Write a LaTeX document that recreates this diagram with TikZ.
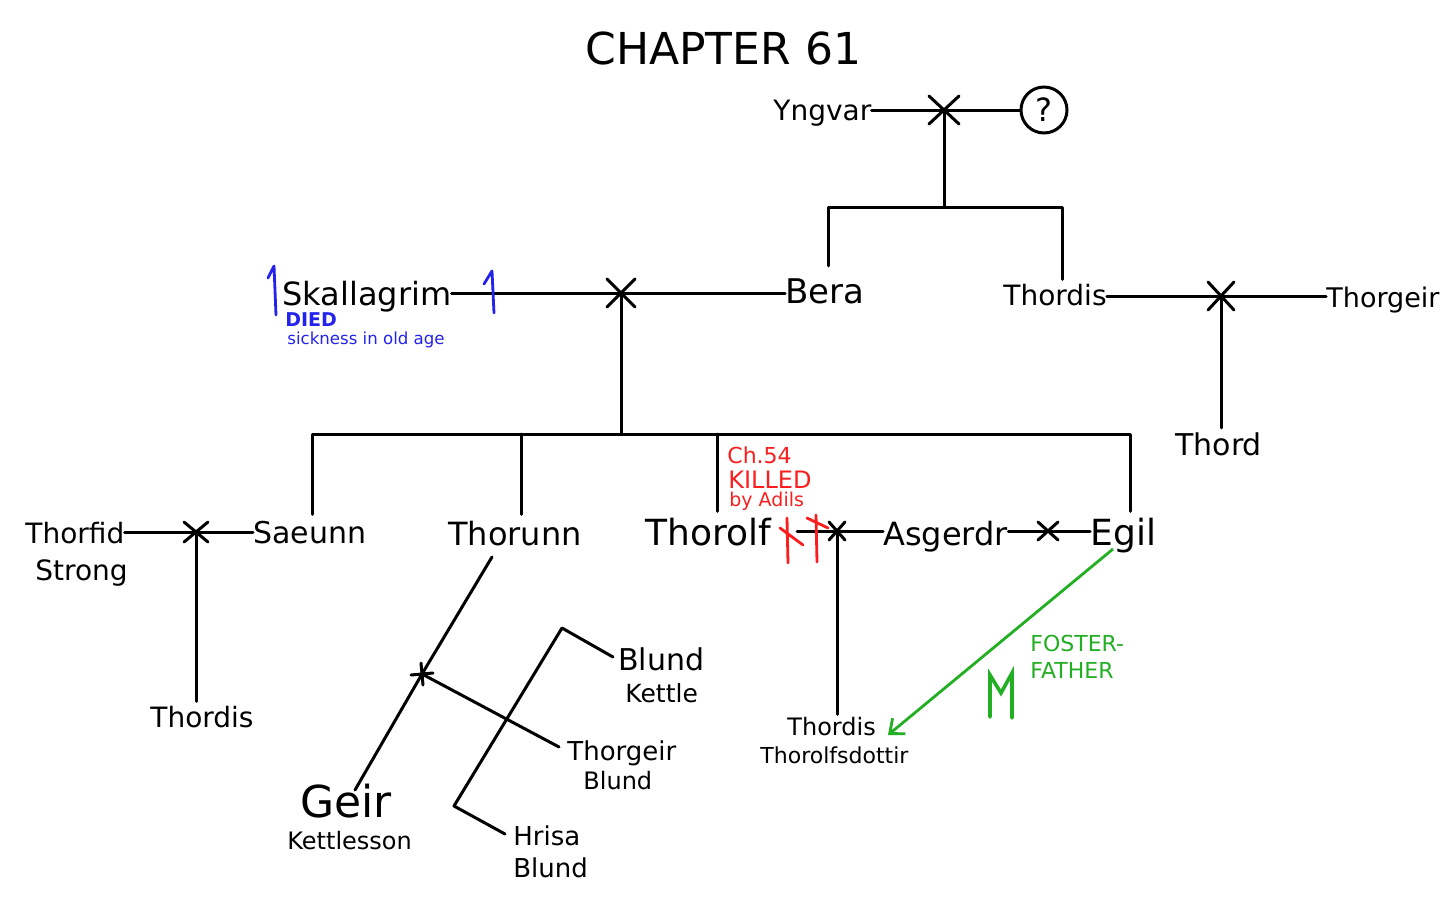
\documentclass[tikz,border=0pt]{standalone}
\usepackage{fontspec}
\setmainfont{DejaVu Sans}
\usetikzlibrary{arrows.meta}
\newcommand\fsz[1]{\fontsize{#1}{#1}\selectfont}
\definecolor{dblue}{RGB}{35,35,235}
\definecolor{kred}{RGB}{250,30,30}
\definecolor{fgreen}{RGB}{35,175,35}
\newcommand\wedx[3]{\draw[conn] (#1) ++(-#2,-#3) -- ++(2*#2,2*#3) (#1) ++(-#2,#3) -- ++(2*#2,-2*#3);}
\begin{document}
\begin{tikzpicture}[x=0.5pt,y=-0.5pt,
  lbl/.style={inner sep=0pt,anchor=base west},
  conn/.style={line width=1.5pt,line cap=round,line join=round},
  garrow/.style={fgreen,line width=1.4pt,-{Straight Barb[length=6pt,width=10pt,line width=1.4pt]}},
  redmark/.style={kred,line width=1.4pt,line cap=round},
  bluemark/.style={dblue,line width=1.4pt,line cap=round,line join=round}]
\fill[white] (0,0) rectangle (1451,900);
\useasboundingbox (0,0) rectangle (1451,900);

% title
\node[lbl,font=\fsz{22}] (title) at (585,64) {CHAPTER 61};

% Yngvar
\node[lbl,font=\fsz{14}] (yngvar) at (773,120) {Yngvar};
\node[draw,circle,line width=1.5pt,minimum size=23pt,inner sep=0pt,font=\fsz{16}] (q) at (1044,110) {?};
\coordinate (m1) at (944,110);
\coordinate (j1) at (944,207);
\draw[conn] (yngvar.east |- m1) -- (m1) -- (q.west);
\wedx{m1}{15}{14}
\draw[conn] (m1) -- (j1);

% Skallagrim & Bera
\node[lbl,font=\fsz{16}] (skal) at (282,305) {Skallagrim};
\node[lbl,font=\fsz{17}] (bera) at (785,303) {Bera};
\node[lbl,font=\fsz{14}] (thordis1) at (1003,305) {Thordis};
\node[lbl,font=\fsz{13.5}] (thorgeir1) at (1326,307) {Thorgeir};
\coordinate (b1) at (828,207);
\coordinate (d1) at (1062,207);
\draw[conn] ([yshift=6pt]b1 |- bera.north) -- (b1) -- (d1) -- ([yshift=2pt]d1 |- thordis1.north);

\coordinate (m2) at (621,293);
\draw[conn] (skal.east |- m2) -- (bera.west |- m2);
\wedx{m2}{14}{14}
\coordinate (j2) at (621,434);
\draw[conn] (m2) -- (j2);

% blue marks
\draw[bluemark] (268,278) -- (274,266) -- (276,315);
\draw[bluemark] (484,284) -- (492,271) -- (494,313);
\node[lbl,font=\bfseries\fsz{9.5},text=dblue] (died) at (285,326) {DIED};
\node[lbl,font=\fsz{8.3},text=dblue] (sick) at (287,344) {sickness in old age};

% Thordis & Thorgeir
\coordinate (m3) at (1221,296);
\draw[conn] (thordis1.east |- m3) -- (thorgeir1.west |- m3);
\wedx{m3}{13}{14}
\node[lbl,font=\fsz{15}] (thord) at (1175,455) {Thord};
\draw[conn] (m3) -- ([yshift=2pt]m3 |- thord.north);

% children row
\node[lbl,font=\fsz{14}] (thorfid) at (25,543) {Thorfid};
\node[lbl,font=\fsz{14}] (strong) at (35,580) {Strong};
\node[lbl,font=\fsz{15}] (saeunn) at (253,543) {Saeunn};
\node[lbl,font=\fsz{16}] (thorunn) at (448,545) {Thorunn};
\node[lbl,font=\fsz{18}] (thorolf) at (645,545) {Thorolf};
\node[lbl,font=\fsz{16}] (asgerdr) at (883,545) {Asgerdr};
\node[lbl,font=\fsz{18}] (egil) at (1090,545) {Egil};

\coordinate (s3) at (312,434);
\coordinate (u3) at (521,434);
\coordinate (t3) at (717,434);
\coordinate (e3) at (1130,434);
\draw[conn] ([yshift=3pt]s3 |- saeunn.north) -- (s3) -- (e3) -- ([yshift=3pt]e3 |- egil.north);
\draw[conn] (u3) -- ([yshift=3pt]u3 |- thorunn.north);
\draw[conn] (t3) -- ([yshift=3pt]t3 |- thorolf.north);

% red
\node[lbl,font=\fsz{11},text=kred] (ch) at (727,463) {Ch.54};
\node[lbl,font=\fsz{12},text=kred] (killed) at (728,488) {KILLED};
\node[lbl,font=\fsz{9.5},text=kred] (adils) at (729,506) {by Adils};

% Thorfid & Saeunn
\coordinate (m4) at (196,532);
\draw[conn] (thorfid.east |- m4) -- (saeunn.west |- m4);
\wedx{m4}{12}{10}
\node[lbl,font=\fsz{14}] (thordis2) at (150,727) {Thordis};
\draw[conn] (m4) -- ([yshift=2pt]m4 |- thordis2.north);

% Thorolf & Asgerdr & Egil
\coordinate (ts) at (797,531);
\coordinate (m5) at (837,531);
\draw[conn] (ts) -- (asgerdr.west |- m5);
\wedx{m5}{8}{9}
\coordinate (m6) at (1048,531);
\draw[conn] (asgerdr.east |- m6) -- (egil.west |- m6);
\wedx{m6}{10}{9}
\draw[redmark] (787,518) -- (788,563);
\draw[redmark] (780,528) -- (803,545);
\draw[redmark] (816,515) -- (817,562);
\draw[redmark] (807,518) -- (828,528);

\node[lbl,font=\fsz{12}] (thordis3) at (787,735) {Thordis};
\node[lbl,font=\fsz{11}] (tdottir) at (760,763) {Thorolfsdottir};
\draw[conn] (m5) -- ([yshift=1pt]m5 |- thordis3.north);

% foster
\coordinate (ga) at (1113,549);
\coordinate (gb) at (888,735);
\draw[garrow] (ga) -- (gb);
\node[lbl,font=\fsz{11},text=fgreen] (foster) at (1030,651) {FOSTER-};
\node[lbl,font=\fsz{11},text=fgreen] (father) at (1030,678) {FATHER};
\draw[fgreen,line width=1.8pt,line cap=round] (990,717) -- (990,675) -- (1001,693) -- (1012,673) -- (1012,718);

% Thorunn family
\coordinate (tu) at (492,557);
\coordinate (m7) at (422,674);
\coordinate (gt) at (355,790);
\draw[conn] (tu) -- (m7) -- (gt);
\draw[conn] (m7) ++(-11,1) -- ++(22,-2) (m7) ++(-1,-11) -- ++(2,22);
\node[lbl,font=\fsz{22}] (geir) at (300,817) {Geir};
\node[lbl,font=\fsz{12}] (kettlesson) at (287,849) {Kettlesson};
\coordinate (tg) at (559,747);
\draw[conn] (m7) -- (tg);
\node[lbl,font=\fsz{13}] (thorgeir2) at (567,760) {Thorgeir};
\node[lbl,font=\fsz{12}] (tblund) at (583,789) {Blund};
\node[lbl,font=\fsz{15}] (blund) at (618,670) {Blund};
\node[lbl,font=\fsz{12.5}] (kettle) at (625,702) {Kettle};
\node[lbl,font=\fsz{13}] (hrisa) at (513,845) {Hrisa};
\node[lbl,font=\fsz{13}] (hblund) at (513,877) {Blund};
\coordinate (bk) at (613,657);
\coordinate (bt) at (562,628);
\coordinate (bb) at (454,806);
\coordinate (hb) at (505,834);
\draw[conn] (bk) -- (bt) -- (bb) -- (hb);
\end{tikzpicture}
\end{document}
